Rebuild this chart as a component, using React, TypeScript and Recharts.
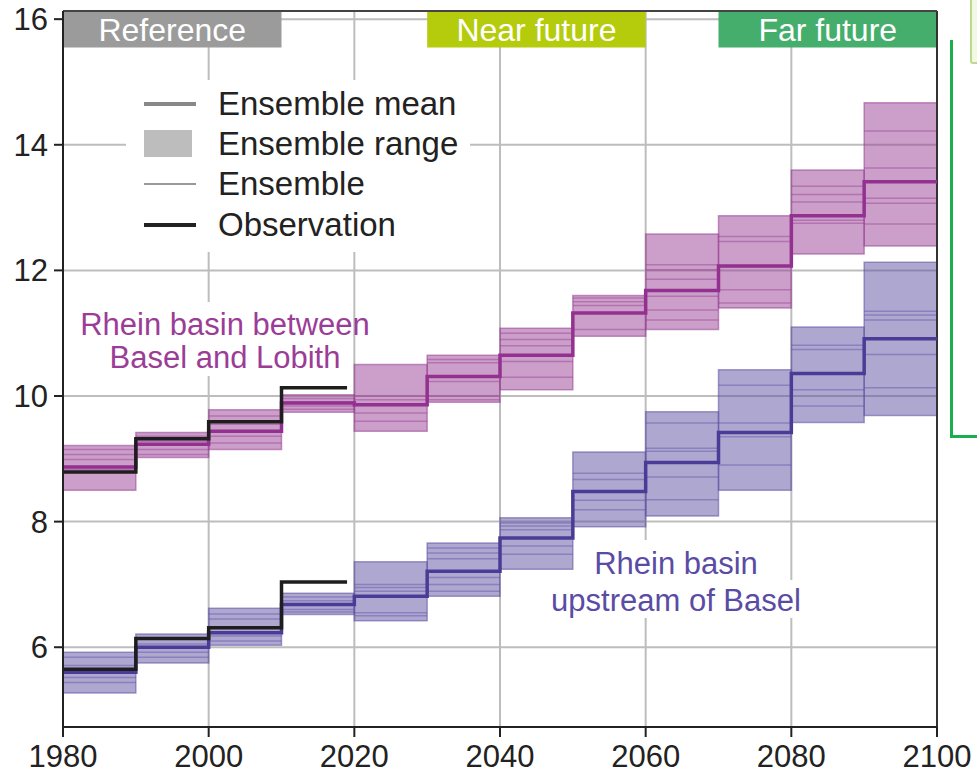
import React from "react";
import {
  ComposedChart,
  XAxis,
  YAxis,
  CartesianGrid,
  Line,
  ReferenceArea,
  ReferenceLine,
} from "recharts";

const decadeStarts = [1980, 1990, 2000, 2010, 2020, 2030, 2040, 2050, 2060, 2070, 2080, 2090];

const pinkLow = [8.5, 9.02, 9.15, 9.74, 9.44, 9.9, 10.1, 10.95, 11.06, 11.4, 12.26, 12.39];
const pinkHigh = [9.21, 9.42, 9.78, 10.02, 10.5, 10.65, 11.08, 11.6, 12.58, 12.87, 13.6, 14.67];
const pinkMean = [8.87, 9.23, 9.44, 9.89, 9.86, 10.31, 10.65, 11.32, 11.68, 12.07, 12.87, 13.41];
const pinkMembers = [
  [9.15, 9.07, 8.99, 8.83],
  [9.36, 9.28, 9.15, 9.07],
  [9.68, 9.55, 9.36, 9.25],
  [9.96, 9.91, 9.84, 9.79],
  [10.0, 9.94, 9.73, 9.6],
  [10.58, 10.53, 10.23, 10.0, 9.94],
  [11.0, 10.9, 10.8, 10.55, 10.3],
  [11.56, 11.5, 11.44, 11.06],
  [12.09, 12.01, 11.86, 11.59, 11.37, 11.21],
  [12.54, 12.46, 11.69, 11.48],
  [13.34, 13.21, 13.09, 12.8, 12.75],
  [14.22, 13.63, 13.15, 13.07, 12.74],
];

const purpleLow = [5.27, 5.75, 6.03, 6.52, 6.42, 6.81, 7.24, 7.92, 8.09, 8.5, 9.58, 9.69];
const purpleHigh = [5.92, 6.21, 6.62, 6.86, 7.36, 7.66, 8.06, 9.11, 9.75, 10.42, 11.1, 12.13];
const purpleMean = [5.6, 6.0, 6.23, 6.68, 6.81, 7.21, 7.74, 8.48, 8.94, 9.42, 10.36, 10.91];
const purpleMembers = [
  [5.84, 5.71, 5.52, 5.44],
  [6.15, 6.05, 5.92, 5.84],
  [6.53, 6.45, 6.18, 6.1],
  [6.8, 6.74, 6.6, 6.56],
  [7.0, 6.95, 6.89, 6.55, 6.5],
  [7.58, 7.5, 7.41, 7.11, 7.0, 6.89],
  [7.98, 7.93, 7.87, 7.61, 7.48],
  [8.77, 8.67, 8.34, 8.19],
  [9.57, 9.17, 9.12, 8.71, 8.35],
  [10.17, 9.57, 9.35, 8.9],
  [10.81, 10.74, 10.1, 9.84],
  [11.35, 11.29, 11.21, 10.66, 10.13],
];

const obsYears = [1980, 1990, 2000, 2010, 2019];
const pinkObs = [8.79, 9.32, 9.59, 10.13, 10.13];
const purpleObs = [5.65, 6.14, 6.31, 7.04, 7.04];

const periodNames = ["Reference", "Near future", "Far future"];
const periodStart = [1980, 2030, 2070];
const periodEnd = [2010, 2060, 2100];
const periodColors = ["#9b9b9b", "#b4cc0c", "#45ae6c"];

const xTicks = [1980, 2000, 2020, 2040, 2060, 2080, 2100];
const yTicks = [6, 8, 10, 12, 14, 16];

const legendLabels = ["Ensemble mean", "Ensemble range", "Ensemble", "Observation"];

const Y_MIN = 4.73;
const Y_MAX = 16.13;
const DECADE = 10;

const PINK = "#973f93";
const PINK_MEAN = "#933190";
const PURPLE = "#5d51a3";
const PURPLE_MEAN = "#4b3b96";

const stepData = (values: number[]) => {
  const pts = decadeStarts.map((x, i) => ({ x, y: values[i] }));
  pts.push({ x: decadeStarts[decadeStarts.length - 1] + DECADE, y: values[values.length - 1] });
  return pts;
};
const obsData = (values: number[]) => obsYears.map((x, i) => ({ x, y: values[i] }));

const FONT = "'Liberation Sans', Arial, Helvetica, sans-serif";

function boxes(low: number[], high: number[], color: string, key: string) {
  return decadeStarts.map((x, i) => (
    <ReferenceArea
      key={`${key}-box-${i}`}
      x1={x}
      x2={x + DECADE}
      y1={low[i]}
      y2={high[i]}
      fill={color}
      fillOpacity={0.5}
      stroke={color}
      strokeOpacity={0.55}
      strokeWidth={1.5}
    />
  ));
}

function members(m: number[][], color: string, key: string) {
  const out: React.ReactNode[] = [];
  decadeStarts.forEach((x, i) => {
    m[i].forEach((v, j) => {
      out.push(
        <ReferenceLine
          key={`${key}-m-${i}-${j}`}
          segment={[
            { x, y: v },
            { x: x + DECADE, y: v },
          ]}
          stroke={color}
          strokeOpacity={0.45}
          strokeWidth={1.5}
        />
      );
    });
  });
  return out;
}

const abs = (s: React.CSSProperties): React.CSSProperties => ({ position: "absolute", ...s });

export default function App() {
  return (
    <div style={{ position: "absolute", left: 0, top: 0, width: 977, height: 775, background: "#fff", overflow: "hidden", fontFamily: FONT }}>
      <ComposedChart width={977} height={775} margin={{ top: 11, right: 40, bottom: 0, left: 0 }}>
        <CartesianGrid stroke="#bdbdbd" strokeWidth={2} />
        <XAxis
          dataKey="x"
          type="number"
          domain={[1980, 2100]}
          ticks={xTicks}
          allowDataOverflow
          height={48}
          tickSize={10}
          tickMargin={8}
          axisLine={{ stroke: "#222", strokeWidth: 2 }}
          tickLine={{ stroke: "#222", strokeWidth: 2 }}
          tick={{ fill: "#222", fontSize: 31, fontFamily: FONT }}
        />
        <YAxis
          type="number"
          domain={[Y_MIN, Y_MAX]}
          ticks={yTicks}
          allowDataOverflow
          width={63}
          tickSize={9}
          tickMargin={6}
          axisLine={{ stroke: "#222", strokeWidth: 2 }}
          tickLine={{ stroke: "#222", strokeWidth: 2 }}
          tick={{ fill: "#222", fontSize: 31, fontFamily: FONT }}
        />
        {boxes(pinkLow, pinkHigh, PINK, "pink")}
        {boxes(purpleLow, purpleHigh, PURPLE, "purple")}
        {members(pinkMembers, PINK, "pink")}
        {members(purpleMembers, PURPLE, "purple")}
        {periodNames.map((name, i) => (
          <ReferenceArea
            key={`period-${i}`}
            x1={periodStart[i]}
            x2={periodEnd[i]}
            y1={15.55}
            y2={Y_MAX}
            fill={periodColors[i]}
            fillOpacity={1}
            stroke="none"
            label={{ value: name, position: "center", fill: "#fff", fontSize: 32, fontFamily: FONT }}
          />
        ))}
        <ReferenceLine x={2100} stroke="#333" strokeWidth={2} />
        <ReferenceLine y={Y_MAX} stroke="#444" strokeWidth={2} />
        <Line data={stepData(pinkMean)} dataKey="y" type="stepAfter" stroke={PINK_MEAN} strokeWidth={3.5} dot={false} isAnimationActive={false} />
        <Line data={stepData(purpleMean)} dataKey="y" type="stepAfter" stroke={PURPLE_MEAN} strokeWidth={3.5} dot={false} isAnimationActive={false} />
        <Line data={obsData(pinkObs)} dataKey="y" type="stepAfter" stroke="#1e1e1e" strokeWidth={3.5} dot={false} isAnimationActive={false} />
        <Line data={obsData(purpleObs)} dataKey="y" type="stepAfter" stroke="#1e1e1e" strokeWidth={3.5} dot={false} isAnimationActive={false} />
      </ComposedChart>

      {/* legend */}
      <div style={abs({ left: 126, top: 80, width: 344, height: 172, background: "#fff" })} />
      <div style={abs({ left: 144, top: 102, width: 52, height: 4, background: "#888" })} />
      <div style={abs({ left: 144, top: 130, width: 48, height: 27, background: "#bdbdbd" })} />
      <div style={abs({ left: 144, top: 183, width: 52, height: 2, background: "#999" })} />
      <div style={abs({ left: 144, top: 223, width: 52, height: 4, background: "#222" })} />
      {legendLabels.map((t, i) => (
        <div key={t} style={abs({ left: 218, top: [104, 144, 184, 225][i] - 19, height: 38, lineHeight: "38px", fontSize: 33, color: "#222", whiteSpace: "nowrap" })}>
          {t}
        </div>
      ))}

      {/* series labels */}
      <div style={abs({ left: 68, top: 302, width: 284, height: 74, background: "#fff" })} />
      <div style={abs({ left: 40, top: 308, width: 370, textAlign: "center", fontSize: 31, lineHeight: "33px", color: "#9b3d97" })}>
        Rhein basin between
        <br />
        Basel and Lobith
      </div>
      <div style={abs({ left: 585, top: 540, width: 182, height: 40, background: "#fff" })} />
      <div style={abs({ left: 545, top: 580, width: 265, height: 38, background: "#fff" })} />
      <div style={abs({ left: 500, top: 545, width: 352, textAlign: "center", fontSize: 31, lineHeight: "37px", color: "#5a4ba5" })}>
        Rhein basin
        <br />
        upstream of Basel
      </div>

      {/* decorative green bracket at the right edge */}
      <div style={abs({ left: 950, top: 40, width: 3, height: 398, background: "#1aae4e" })} />
      <div style={abs({ left: 950, top: 435, width: 27, height: 3, background: "#1aae4e" })} />
      <div style={abs({ left: 970, top: -4, width: 20, height: 64, border: "2px solid #bcd98e", background: "#f1f8e4", borderRadius: 3 })} />
    </div>
  );
}
